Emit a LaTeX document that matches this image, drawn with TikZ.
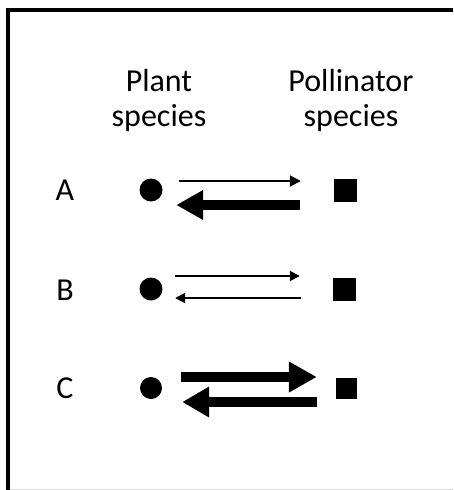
\documentclass[tikz,border=0pt]{standalone}
\usepackage{fontspec}
\setmainfont{Carlito}
\usetikzlibrary{arrows.meta}
\begin{document}
\begin{tikzpicture}[x=1pt,y=-1pt,
  every node/.style={font=\fontsize{32}{35}\selectfont},
  plantdot/.style={circle,fill=black,inner sep=0pt,minimum size=23pt},
  pollbox/.style={rectangle,fill=black,inner sep=0pt,minimum size=23pt},
  weakarrow/.style={line width=1.8pt,-{Triangle[length=11pt,width=11pt]}},
  strongarrow/.style={line width=10pt,-{Triangle[length=27pt,width=28pt]}}]
  \useasboundingbox (0,0) rectangle (453,490);
  % frame
  \draw[line width=4pt,line cap=butt,line join=miter] (8,490) -- (8,10) -- (453,10);
  \draw[black!15,line width=1pt] (10,489.5) -- (453,489.5);
  % headings
  \node[align=center] (planthead) at (159,100) {Plant\\species};
  \node[align=center] (pollhead) at (351,100) {Pollinator\\species};
  % rows
  \node (labA) at (65,190) {A};
  \node (labB) at (65,290) {B};
  \node (labC) at (65,388) {C};
  \node[plantdot] (plantA) at (151,190) {};
  \node[plantdot] (plantB) at (151,289) {};
  \node[plantdot,minimum size=22pt] (plantC) at (151,388) {};
  \node[pollbox] (pollA) at (345.5,190) {};
  \node[pollbox] (pollB) at (344,289) {};
  \node[pollbox,minimum size=21pt] (pollC) at (346,388) {};
  % A: weak plant->pollinator, strong pollinator->plant
  \draw[weakarrow] ([xshift=16.5pt,yshift=9pt]plantA.east) -- ([xshift=-33pt,yshift=9pt]pollA.west);
  \draw[strongarrow] ([xshift=-34pt,yshift=-15pt]pollA.west) -- ([xshift=13.5pt,yshift=-15pt]plantA.east);
  % B: weak both ways
  \draw[weakarrow,-{Triangle[length=10pt,width=10pt]}] ([xshift=12.5pt,yshift=13pt]plantB.east) -- ([xshift=-32.5pt,yshift=13pt]pollB.west);
  \draw[weakarrow,-{Triangle[length=10pt,width=10pt]}] ([xshift=-31.5pt,yshift=-9pt]pollB.west) -- ([xshift=12.5pt,yshift=-9pt]plantB.east);
  % C: strong both ways
  \draw[strongarrow,-{Triangle[length=28pt,width=29pt]}] ([xshift=19pt,yshift=11pt]plantC.east) -- ([xshift=-18.5pt,yshift=11pt]pollC.west);
  \draw[strongarrow,-{Triangle[length=27pt,width=29pt]}] ([xshift=-18.5pt,yshift=-14pt]pollC.west) -- ([xshift=20pt,yshift=-14pt]plantC.east);
\end{tikzpicture}
\end{document}
